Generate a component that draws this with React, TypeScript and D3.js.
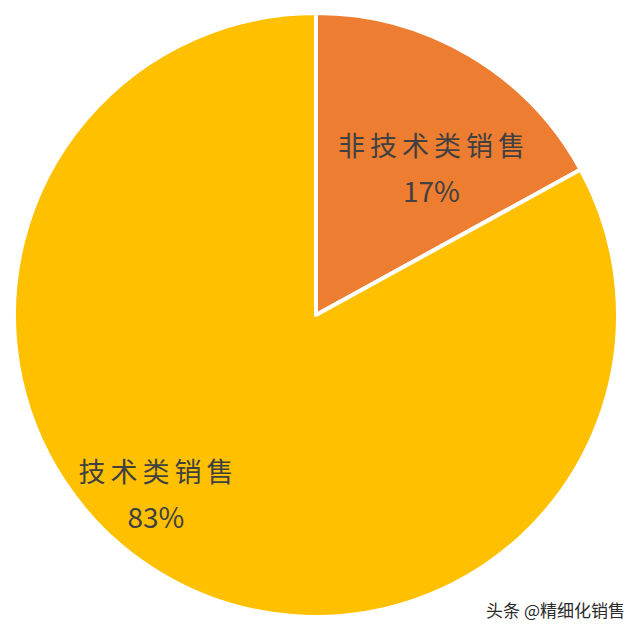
import { useEffect, useRef } from 'react';
import * as d3 from 'd3';

const categories = ['非技术类销售', '技术类销售'];
const shares = [17, 83];
const colors = ['#ED7D31', '#FFC000'];

type Slice = { name: string; value: number; color: string };

const App = () => {
    const svgRef = useRef<SVGSVGElement | null>(null);

    useEffect(() => {
        if (!svgRef.current) return;
        const svg = d3.select(svgRef.current);
        svg.selectAll('*').remove();

        const width = 640;
        const height = 636;
        const cx = 316;
        const cy = 315;
        const radius = 302;

        const data: Slice[] = categories.map((c, i) => ({ name: c, value: shares[i], color: colors[i] }));

        const pie = d3.pie<Slice>()
            .value(d => d.value)
            .sort(null);
        const arcs = pie(data);

        const arc = d3.arc<d3.PieArcDatum<Slice>>()
            .innerRadius(0)
            .outerRadius(radius);

        svg.append('rect').attr('width', width).attr('height', height).attr('fill', '#fff');

        const g = svg.append('g').attr('transform', `translate(${cx},${cy})`);

        g.selectAll('path')
            .data(arcs)
            .join('path')
            .attr('d', arc)
            .attr('fill', d => d.data.color)
            .attr('stroke', '#fff')
            .attr('stroke-width', 4)
            .attr('stroke-linejoin', 'round');

        // label anchors as fractions of the radius along the slice's mid angle (x / y)
        const labelRx = [0.751, 1.041];
        const labelRy = [0.523, 0.731];
        const labels = g.selectAll('g.lbl')
            .data(arcs)
            .join('g')
            .attr('class', 'lbl')
            .attr('transform', (d, i) => {
                const a = (d.startAngle + d.endAngle) / 2;
                return `translate(${Math.sin(a) * radius * labelRx[i]},${-Math.cos(a) * radius * labelRy[i]})`;
            })
            .attr('font-family', '"Noto Sans CJK SC", "Noto Sans", sans-serif')
            .attr('fill', '#404040')
            .attr('text-anchor', 'middle');

        labels.append('text')
            .attr('y', -23)
            .attr('dx', 2.5)
            .attr('font-size', 27)
            .attr('letter-spacing', 5)
            .text(d => d.data.name);
        labels.append('text')
            .attr('y', 23)
            .attr('font-size', 28)
            .text(d => `${d.data.value}%`);

        // watermark
        svg.append('text')
            .attr('x', 625)
            .attr('y', 617)
            .attr('text-anchor', 'end')
            .attr('font-family', '"Noto Sans CJK SC", sans-serif')
            .attr('font-size', 17)
            .attr('fill', '#2a2a2a')
            .attr('stroke', '#fff')
            .attr('stroke-width', 3)
            .attr('paint-order', 'stroke')
            .text('头条 @精细化销售');
    }, []);

    return (
        <svg ref={svgRef} width={640} height={636} style={{ display: 'block', margin: '-8px' }} />
    );
};

export default App;
